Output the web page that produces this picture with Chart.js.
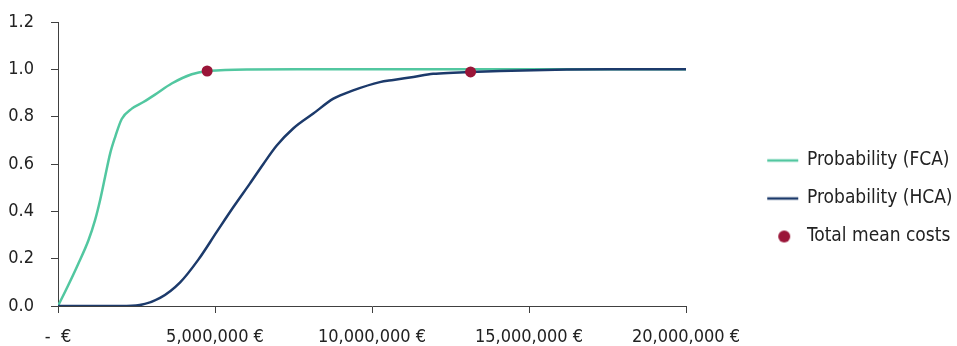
<!DOCTYPE html>
<html>
<head>
<meta charset="utf-8">
<script src="https://cdn.jsdelivr.net/npm/chart.js@4/dist/chart.umd.min.js"></script>
<style>
  html, body { margin: 0; padding: 0; background: #ffffff; }
  #chart { display: block; }
</style>
</head>
<body>
<canvas id="chart" width="957" height="346"></canvas>
<script>
// Cumulative probability of total costs for the two approaches
const seriesNames = ['Probability (FCA)', 'Probability (HCA)', 'Total mean costs'];

const fcaCost = [0, 330000, 650000, 970000, 1180000, 1340000, 1500000, 1660000, 1820000, 2030000,
                 2350000, 2720000, 3090000, 3620000, 4260000, 4750000, 5320000, 6000000, 8000000,
                 12000000, 16000000, 20000000];
const fcaProb = [0, 0.089, 0.18, 0.278, 0.363, 0.447, 0.546, 0.644, 0.714, 0.79,
                 0.834, 0.862, 0.893, 0.94, 0.979, 0.993, 0.997, 0.999, 1,
                 1, 1, 1];

const hcaCost = [0, 1000000, 2000000, 2600000, 3250000, 3890000, 4470000, 5050000, 5580000, 6110000,
                 6540000, 6960000, 7490000, 8130000, 8770000, 9400000, 10250000, 10680000, 11320000,
                 11950000, 12590000, 13140000, 14080000, 15140000, 16200000, 18000000, 20000000];
const hcaProb = [0, 0, 0, 0.004, 0.034, 0.1, 0.196, 0.312, 0.417, 0.517,
                 0.6, 0.677, 0.75, 0.813, 0.876, 0.911, 0.946, 0.955, 0.968,
                 0.981, 0.986, 0.989, 0.993, 0.996, 0.999, 1, 1];

// Mean total cost of each approach, placed on its curve
const meanCost = [4750000, 13140000];
const meanProb = [0.993, 0.989];

const costTicks = [0, 5000000, 10000000, 15000000, 20000000];
const costTickLabels = ['-  €', '5,000,000 €', '10,000,000 €', '15,000,000 €', '20,000,000 €'];
const probTicks = [0, 0.2, 0.4, 0.6, 0.8, 1.0, 1.2];
const probTickLabels = ['0.0', '0.2', '0.4', '0.6', '0.8', '1.0', '1.2'];

const FONT = "'DejaVu Sans Condensed', 'Liberation Sans Narrow', 'Arial Narrow', sans-serif";
const TEXT = '#222222';
const AXIS = '#404040';
const COLORS = { fca: '#52c7a0', hca: '#1c3a6b', mean: '#9a1538' };

const toPoints = (xs, ys) => xs.map((x, i) => ({ x, y: ys[i] }));

// Legend swatches: a short line for the curves, a dot for the means
function swatch(kind, color) {
  const c = document.createElement('canvas');
  c.width = 100; c.height = 14;
  const g = c.getContext('2d');
  if (kind === 'line') {
    g.strokeStyle = color; g.lineWidth = 2.5;
    g.beginPath(); g.moveTo(66, 7); g.lineTo(97, 7); g.stroke();
  } else {
    g.fillStyle = color;
    g.beginPath(); g.arc(83, 7, 6, 0, Math.PI * 2); g.fill();
  }
  return c;
}
const swatches = [swatch('line', COLORS.fca), swatch('line', COLORS.hca), swatch('dot', COLORS.mean)];

new Chart(document.getElementById('chart'), {
  type: 'line',
  data: {
    datasets: [
      {
        label: seriesNames[0],
        data: toPoints(fcaCost, fcaProb),
        borderColor: COLORS.fca,
        backgroundColor: COLORS.fca,
        borderWidth: 2.5,
        pointRadius: 0,
        cubicInterpolationMode: 'monotone',
        order: 3
      },
      {
        label: seriesNames[1],
        data: toPoints(hcaCost, hcaProb),
        borderColor: COLORS.hca,
        backgroundColor: COLORS.hca,
        borderWidth: 2.5,
        pointRadius: 0,
        cubicInterpolationMode: 'monotone',
        order: 2
      },
      {
        label: seriesNames[2],
        data: toPoints(meanCost, meanProb),
        showLine: false,
        pointRadius: 5.5,
        pointBorderWidth: 0,
        pointBackgroundColor: COLORS.mean,
        pointBorderColor: COLORS.mean,
        backgroundColor: COLORS.mean,
        borderColor: COLORS.mean,
        order: 1
      }
    ]
  },
  options: {
    responsive: false,
    animation: false,
    devicePixelRatio: 1,
    layout: { padding: { top: 22, left: 0, right: 0, bottom: 0 } },
    plugins: {
      tooltip: { enabled: false },
      legend: {
        position: 'right',
        align: 'center',
        maxWidth: 271,
        title: { display: true, text: '', font: { size: 10, lineHeight: 1.2 }, padding: { top: 17, bottom: 0 } },
        labels: {
          usePointStyle: true,
          pointStyleWidth: 92.5,
          padding: 19,
          color: TEXT,
          font: { family: FONT, size: 19 },
          generateLabels: (chart) => chart.data.datasets.map((ds, i) => ({
            text: ds.label,
            pointStyle: swatches[i],
            fillStyle: 'transparent',
            strokeStyle: 'transparent',
            lineWidth: 0,
            fontColor: TEXT,
            hidden: false,
            datasetIndex: i
          }))
        }
      }
    },
    scales: {
      x: {
        type: 'linear',
        min: 0,
        max: 20000000,
        afterBuildTicks: (s) => { s.ticks = costTicks.map(v => ({ value: v })); },
        afterFit: (s) => { s.height = 40; },
        ticks: {
          color: TEXT,
          padding: 14,
          maxRotation: 0,
          font: { family: FONT, size: 18 },
          callback: (v, i) => costTickLabels[i]
        },
        grid: { drawOnChartArea: false, drawTicks: true, tickLength: 7, color: AXIS, tickColor: AXIS },
        border: { display: true, color: AXIS, width: 1 }
      },
      y: {
        type: 'linear',
        min: 0,
        max: 1.2,
        afterBuildTicks: (s) => { s.ticks = probTicks.map(v => ({ value: v })); },
        afterFit: (s) => { s.width = 58; s.paddingTop = 0; s.paddingBottom = 0; },
        ticks: {
          color: TEXT,
          padding: 17,
          font: { family: FONT, size: 18 },
          callback: (v, i) => probTickLabels[i]
        },
        grid: { drawOnChartArea: false, drawTicks: true, tickLength: 7, color: AXIS, tickColor: AXIS },
        border: { display: true, color: AXIS, width: 1 }
      }
    }
  }
});
</script>
</body>
</html>
